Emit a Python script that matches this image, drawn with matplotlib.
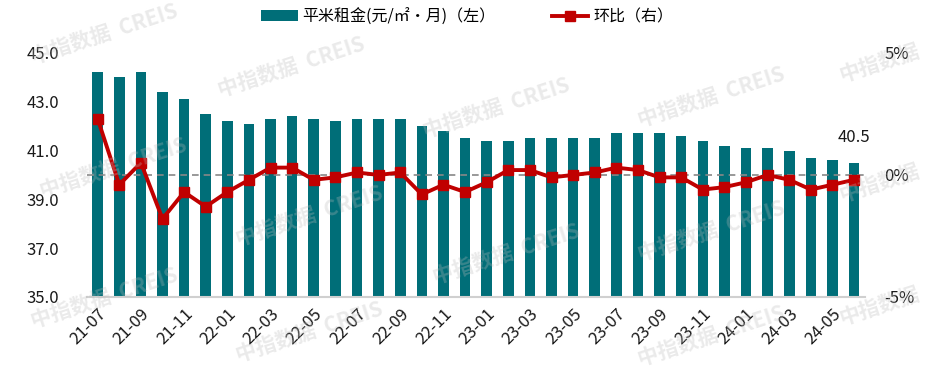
import matplotlib
matplotlib.use("Agg")
import matplotlib.pyplot as plt
from matplotlib.ticker import FuncFormatter
from matplotlib.lines import Line2D
from matplotlib.patches import Patch

plt.rcParams['font.family'] = ['Noto Sans CJK SC', 'DejaVu Sans']

months = ["21-07", "21-08", "21-09", "21-10", "21-11", "21-12",
          "22-01", "22-02", "22-03", "22-04", "22-05", "22-06",
          "22-07", "22-08", "22-09", "22-10", "22-11", "22-12",
          "23-01", "23-02", "23-03", "23-04", "23-05", "23-06",
          "23-07", "23-08", "23-09", "23-10", "23-11", "23-12",
          "24-01", "24-02", "24-03", "24-04", "24-05", "24-06"]
rent = [44.2, 44.0, 44.2, 43.4, 43.1, 42.5,
        42.2, 42.1, 42.3, 42.4, 42.3, 42.2,
        42.3, 42.3, 42.3, 42.0, 41.8, 41.5,
        41.4, 41.4, 41.5, 41.5, 41.5, 41.5,
        41.7, 41.7, 41.7, 41.6, 41.4, 41.2,
        41.1, 41.1, 41.0, 40.7, 40.6, 40.5]
mom = [2.3, -0.4, 0.5, -1.8, -0.7, -1.3,
       -0.7, -0.2, 0.3, 0.3, -0.2, -0.1,
       0.1, 0.0, 0.1, -0.8, -0.4, -0.7,
       -0.3, 0.2, 0.2, -0.1, 0.0, 0.1,
       0.3, 0.2, -0.1, -0.1, -0.6, -0.5,
       -0.3, 0.0, -0.2, -0.6, -0.4, -0.2]
left_ticks = [35.0, 37.0, 39.0, 41.0, 43.0, 45.0]
right_ticks = [-5, 0, 5]
bar_label = "平米租金(元/㎡·月)（左）"
line_label = "环比（右）"

bar_color = "#006E78"
line_color = "#C00000"

fig = plt.figure(figsize=(9.34, 3.73), dpi=100)
ax = fig.add_axes([0.093, 0.204, 0.833, 0.654])
x = list(range(len(months)))
ax.bar(x, rent, width=0.49, color=bar_color, zorder=2)
ax.set_ylim(35, 45)
ax.set_xlim(-0.5, len(months) - 0.5)
ax.set_yticks(left_ticks)
ax.yaxis.set_major_formatter(FuncFormatter(lambda v, p: f"{v:.1f}"))
ax.set_xticks(x[::2])
ax.set_xticklabels(months[::2], rotation=45, ha='right', rotation_mode='anchor')
ax.tick_params(axis='both', length=0, labelsize=12, colors='#1a1a1a')
ax.tick_params(axis='y', pad=20)
ax.tick_params(axis='x', pad=6)
for s in ['top', 'right', 'left']:
    ax.spines[s].set_visible(False)
ax.spines['bottom'].set_color('#D0D0D0')
ax.spines['bottom'].set_linewidth(1.5)

ax2 = ax.twinx()
ax2.set_ylim(-5, 5)
ax2.set_yticks(right_ticks)
ax2.yaxis.set_major_formatter(FuncFormatter(lambda v, p: f"{v:.0f}%"))
ax2.tick_params(axis='y', length=0, labelsize=12, colors='#1a1a1a', pad=14)
for s in ['top', 'right', 'left', 'bottom']:
    ax2.spines[s].set_visible(False)
ax2.axhline(0, color='#888888', linestyle=(0, (4, 3)), linewidth=1.2, zorder=1)
ax2.plot(x, mom, color=line_color, linewidth=2.8, marker='s', markersize=7.5, zorder=3)

ax.annotate(f"{rent[-1]:.1f}", xy=(x[-1], rent[-1]), xytext=(0, 12),
            textcoords='offset points', ha='center', va='bottom', fontsize=12, color='#1a1a1a')

handles = [Patch(facecolor=bar_color), Line2D([0], [0], color=line_color, linewidth=2.8,
                                              marker='s', markersize=7.5)]
fig.legend(handles, [bar_label, line_label], loc='center', bbox_to_anchor=(0.5, 0.955),
           ncol=2, frameon=False, fontsize=11.5, handlelength=2.3, columnspacing=3.5,
           handletextpad=0.3)

wm = [(0.03, 0.83, "中指数据  CREIS"), (0.23, 0.74, "中指数据  CREIS"),
      (0.45, 0.63, "中指数据  CREIS"), (0.04, 0.47, "中指数据  CREIS"),
      (0.25, 0.34, "中指数据  CREIS"), (0.46, 0.24, "中指数据  CREIS"),
      (0.68, 0.66, "中指数据  CREIS"), (0.68, 0.30, "中指数据  CREIS"),
      (0.03, 0.12, "中指数据  CREIS"), (0.25, 0.03, "中指数据  CREIS"),
      (0.68, 0.02, "中指数据  CREIS"),
      (0.895, 0.78, "中指数据"), (0.895, 0.46, "中指数据"), (0.895, 0.13, "中指数据")]
for (wx, wy, t) in wm:
    fig.text(wx, wy, t, fontsize=15, color='#BBBBBB', alpha=0.3,
             rotation=18, fontweight='bold', zorder=0)

fig.savefig("out.png", dpi=100)
